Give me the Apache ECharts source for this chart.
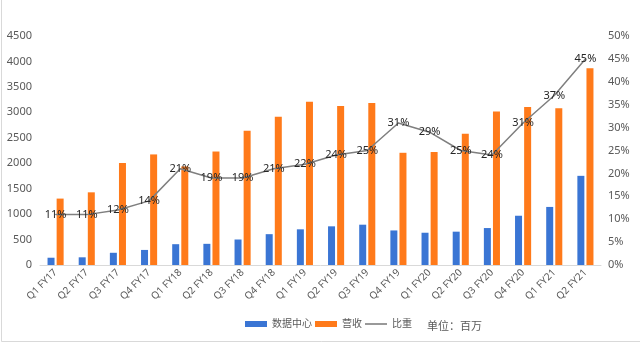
<!DOCTYPE html>
<html>
<head>
<meta charset="utf-8">
<script src="https://cdn.jsdelivr.net/npm/echarts@6/dist/echarts.min.js"></script>
<style>html,body{margin:0;padding:0;background:#fff}#c{width:640px;height:345px}</style>
</head>
<body>
<div id="c"></div>
<script>
const categories = ['Q1 FY17','Q2 FY17','Q3 FY17','Q4 FY17','Q1 FY18','Q2 FY18','Q3 FY18','Q4 FY18','Q1 FY19','Q2 FY19','Q3 FY19','Q4 FY19','Q1 FY20','Q2 FY20','Q3 FY20','Q4 FY20','Q1 FY21','Q2 FY21'];
const dataCenter = [143,151,240,296,409,416,501,606,701,760,792,679,634,655,726,968,1141,1752];
const revenue = [1305,1428,2004,2173,1937,2230,2636,2911,3207,3123,3181,2205,2220,2579,3014,3105,3080,3866];
const ratio = [0.11,0.11,0.12,0.14,0.21,0.19,0.19,0.21,0.22,0.24,0.25,0.31,0.29,0.25,0.24,0.31,0.37,0.45];
const leftTicks = {min:0, max:4500, interval:500};
const rightTicks = {min:0, max:0.5, interval:0.05};

const font = "'Noto Sans','Noto Sans CJK SC',sans-serif";
const chart = echarts.init(document.getElementById('c'), null, {renderer:'canvas'});
chart.setOption({
  backgroundColor:'#fff',
  animation:false,
  textStyle:{fontFamily:font},
  graphic:[{type:'rect', shape:{x:1.5,y:-2,width:640,height:343.5}, style:{fill:'none', stroke:'#d9d9d9', lineWidth:1}, silent:true},
           {type:'text', left:427, top:321, style:{text:'单位：百万', fill:'#595959', font:'11px '+font}}],
  grid:{left:40, right:39, top:36, bottom:80},
  legend:{
    bottom:11, left:240, itemWidth:22, itemHeight:6, itemGap:3,
    textStyle:{color:'#595959', fontSize:10, fontFamily:font},
    data:[{name:'数据中心', icon:'rect'},{name:'营收', icon:'rect'},
          {name:'比重', icon:'path://M0,0 L22,0 L22,1.6 L0,1.6 Z'}]
  },
  xAxis:{
    type:'category', data:categories,
    axisLine:{lineStyle:{color:'#d9d9d9'}},
    axisTick:{show:false},
    axisLabel:{rotate:45, color:'#595959', fontSize:10, interval:0, margin:6}
  },
  yAxis:[
    {type:'value', min:leftTicks.min, max:leftTicks.max, interval:leftTicks.interval,
     splitLine:{show:false}, axisLine:{show:false}, axisTick:{show:false},
     axisLabel:{color:'#595959', fontSize:11, margin:8, formatter:v=>String(v)}},
    {type:'value', min:rightTicks.min, max:rightTicks.max, interval:rightTicks.interval,
     splitLine:{show:false}, axisLine:{show:false}, axisTick:{show:false},
     axisLabel:{color:'#595959', fontSize:11, margin:7, formatter:v=>Math.round(v*100)+'%'}}
  ],
  series:[
    {name:'数据中心', type:'bar', data:dataCenter, barWidth:7, barGap:'30%', itemStyle:{color:'#3A75D4'}},
    {name:'营收', type:'bar', data:revenue, barWidth:7, barGap:'30%', itemStyle:{color:'#FF7A1A'}},
    {name:'比重', type:'line', yAxisIndex:1, data:ratio, symbol:'circle', symbolSize:1,
     lineStyle:{color:'#7f7f7f', width:1.5}, itemStyle:{color:'#7f7f7f'},
     label:{show:true, position:'inside', color:'#262626', fontSize:11, fontFamily:font,
            formatter:p=>Math.round(p.value*100)+'%'}}
  ]
});
</script>
</body>
</html>
